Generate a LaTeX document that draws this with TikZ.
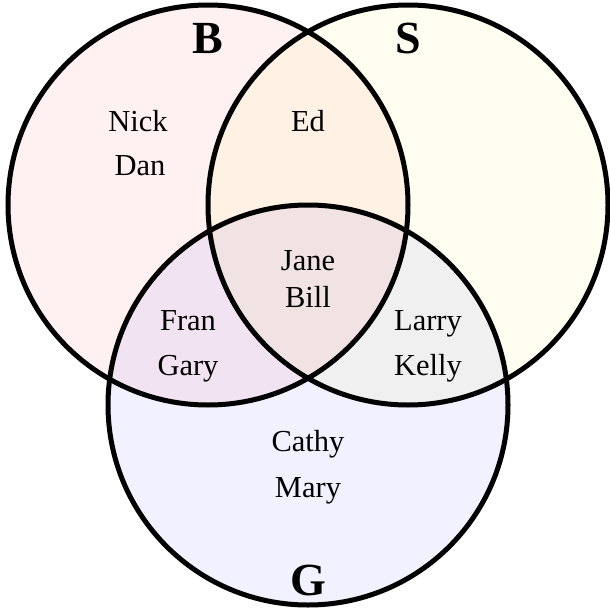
\documentclass[tikz,border=0pt]{standalone}
\usepackage{fontspec}
\setmainfont{Liberation Serif}
\begin{document}
\begin{tikzpicture}[x=1pt,y=-1pt,
  setfill/.style={fill opacity=0.055},
  ring/.style={draw=black,line width=5pt},
  person/.style={anchor=base,inner sep=0pt,font=\fontsize{30.5}{30.5}\selectfont},
  setlab/.style={anchor=base,inner sep=0pt,font=\fontsize{46}{46}\selectfont\bfseries}]
\useasboundingbox (0,0) rectangle (610,613);
\fill[white] (0,0) rectangle (610,613);
\fill[red,setfill] (208,205) circle[radius=200];
\fill[yellow,setfill] (408,205) circle[radius=200];
\fill[blue,setfill] (308,405) circle[radius=200];
\draw[ring] (208,205) circle[radius=200];
\draw[ring] (408,205) circle[radius=200];
\draw[ring] (308,405) circle[radius=200];
\node[setlab] (lB) at (208,53) {B};
\node[setlab] (lS) at (408,53) {S};
\node[setlab] (lG) at (308,595) {G};
\node[person] (nick) at (138,131) {Nick};
\node[person] (dan) at (140,175) {Dan};
\node[person] (ed) at (308,131) {Ed};
\node[person] (jane) at (308,270) {Jane};
\node[person] (bill) at (308,307) {Bill};
\node[person] (fran) at (188,330) {Fran};
\node[person] (gary) at (188,375) {Gary};
\node[person] (larry) at (428,330) {Larry};
\node[person] (kelly) at (428,375) {Kelly};
\node[person] (cathy) at (308,451) {Cathy};
\node[person] (mary) at (308,497) {Mary};
\end{tikzpicture}
\end{document}
